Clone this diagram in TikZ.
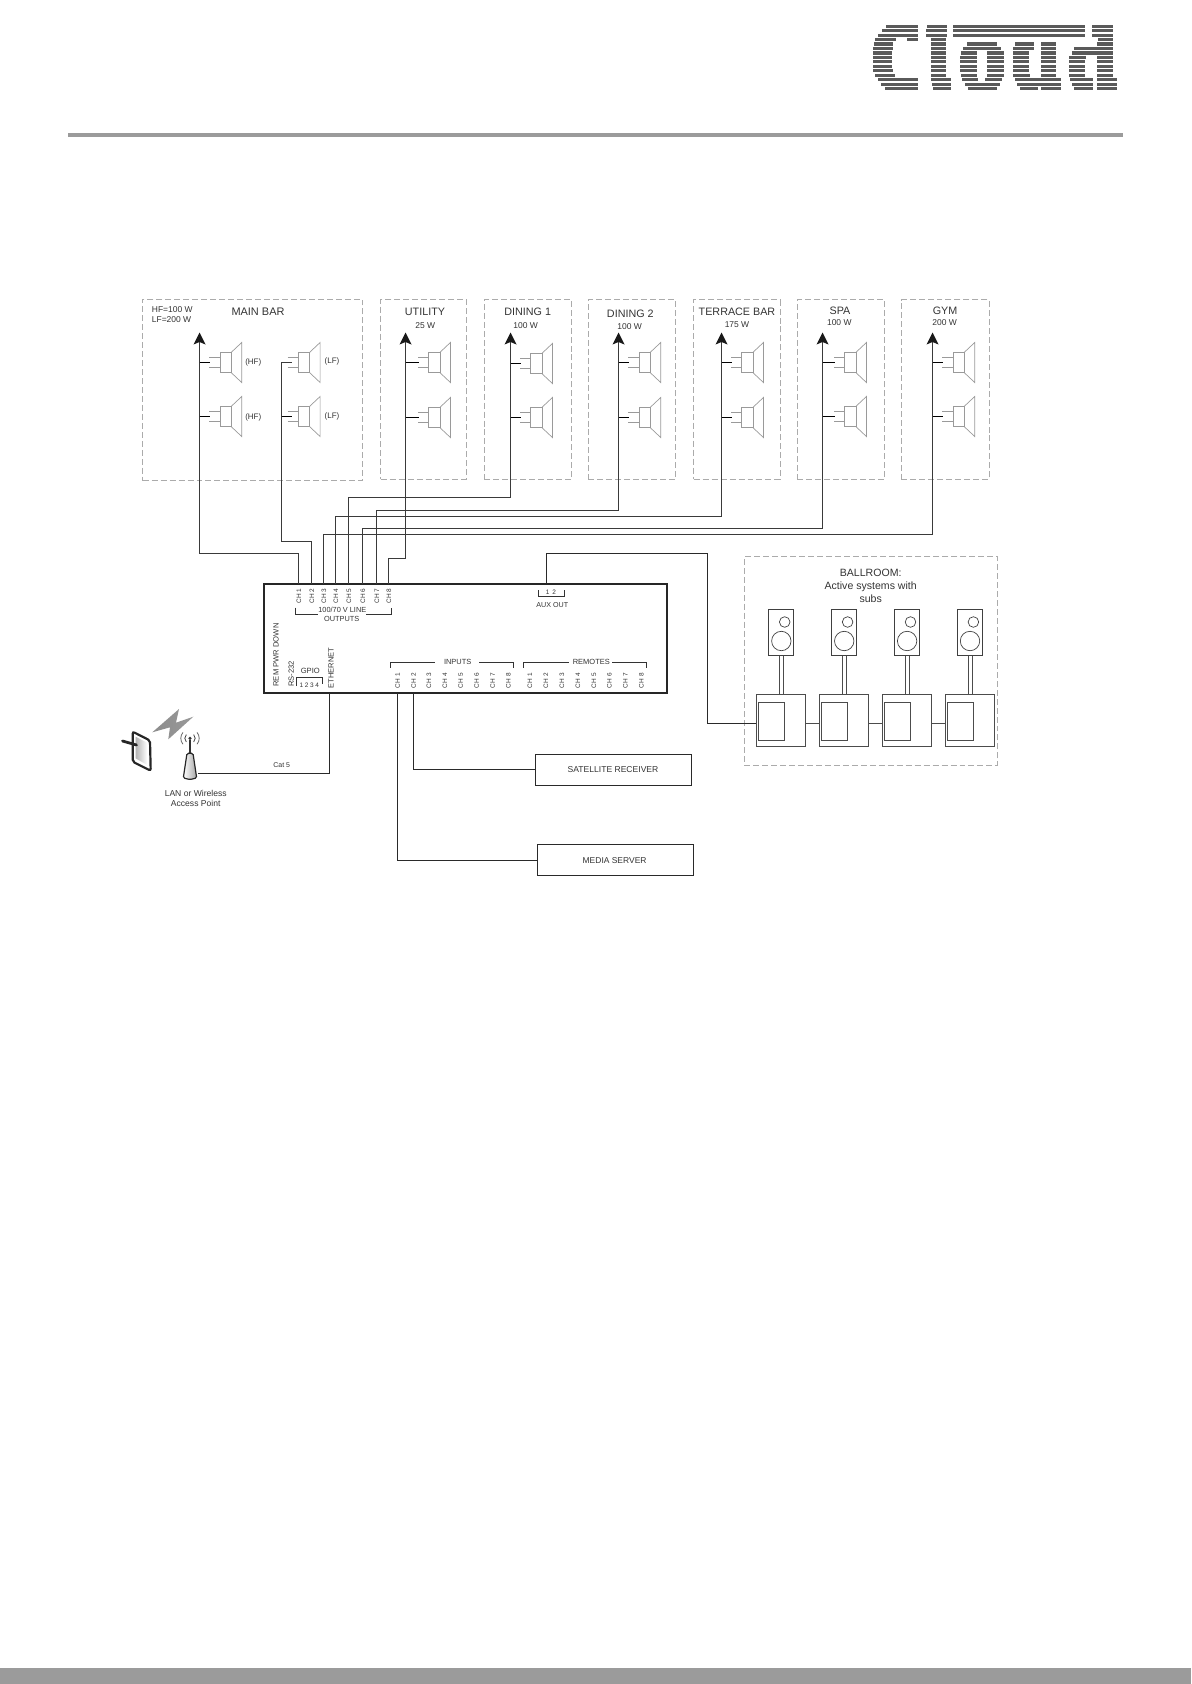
\documentclass[tikz,border=0pt]{standalone}
\usepackage{fontspec}
\setmainfont{Liberation Sans}
\definecolor{txtc}{HTML}{333333}
\definecolor{dashc}{HTML}{ABABAB}
\definecolor{spkc}{HTML}{9A9A9A}
\definecolor{wirec}{HTML}{3A3A3A}
\definecolor{thinc}{HTML}{2A2A2A}
\definecolor{barc}{HTML}{9B9B9B}
\definecolor{logoc}{HTML}{5A5A5A}
\tikzset{
  lbl/.style={inner sep=0pt,text=txtc,font=\fontsize{#1}{#1}\selectfont},
  vlbl/.style={lbl=#1,rotate=90},
  room/.style={draw=dashc,line width=0.7pt,dash pattern=on 6pt off 3pt,inner sep=0pt},
  wire/.style={draw=wirec,line width=1.8pt},
  thinwire/.style={draw=thinc,line width=1pt},
  stub/.style={draw=black,line width=1.2pt},
  brk/.style={draw=txtc,line width=0.6pt},
  devbox/.style={draw=thinc,line width=0.8pt,inner sep=0pt},
  balline/.style={draw=black!70,line width=0.8pt},
  spk/.pic={
    \draw[spkc,line width=0.7pt] (0,-5) -- (10.7,-5) (0,5) -- (10.7,5);
    \draw[spkc,line width=0.7pt] (10.7,-10.2) rectangle (22,10.2);
    \draw[spkc,line width=0.7pt] (22,-10.2) -- (32.4,-20) -- (32.4,20) -- (22,10.2);
  },
  tip/.pic={
    \fill[black!90] (0,-9.5) -- (6,2.5) -- (0,0) -- (-6,2.5) -- cycle;
  },
}
\begin{document}
\begin{tikzpicture}[x=1bp,y=-1bp]
\useasboundingbox (0,0) rectangle (1191,1684);

% header and footer bars
\fill[barc] (68,133) rectangle (1123,137);
\fill[barc] (0,1668) rectangle (1191,1684);

% logo, stripe by stripe
\foreach \r/\a/\b in {
 0/885.7/918.3,1/881.7/918.3,2/878/917.7,3/875/895.7,3/906.7/917.7,4/874/893.3,5/873.3/892.7,
 6/872.7/892,7/872.7/892,8/872.7/892,9/872.7/892,10/873.3/892.7,11/875/895,12/878.3/917.7,13/881/917.7,14/885/917.7,
 0/926.5/946.7,1/926/946.7,2/926/946.7,3/931/946,4/931/946,5/931/946,6/931/946,7/931/946,8/931/946,9/931/946,10/931/946,11/931/946,12/931/951,13/931.7/951,14/933/951,
 0/953.3/1085,1/953.3/1085,2/953.3/1085,
 4/966.7/996.7,5/963.3/1000.7,6/960.7/976.7,6/986.7/1003.6,7/960/976.7,7/986.7/1004,8/960/976.7,8/986.7/1004,9/960/976.7,9/986.7/1004,10/960/976.7,10/986.7/1004,11/960.7/977,11/986.7/1003.6,12/961.7/978,12/985/1001.7,13/965/1000,14/968.3/996.7,
 4/1015/1034.3,5/1013.3/1034.3,6/1012.7/1029.3,7/1012.7/1029.3,8/1012.7/1029.3,9/1012.7/1029.3,10/1012.7/1029.3,11/1013.3/1030,12/1015/1061,13/1016.7/1061,14/1020/1038.3,
 4/1040.7/1056,5/1040.7/1056,6/1040.7/1056,7/1040.7/1056,8/1040.7/1056,9/1040.7/1056,10/1040.7/1056,11/1040.7/1056,14/1040.7/1061,
 0/1092.3/1112.7,1/1092.3/1112.7,2/1092.3/1112.7,3/1097.7/1112.7,4/1096.7/1112.7,5/1074/1112.7,6/1071.7/1112.7,
 7/1069.3/1086,7/1097.3/1112.7,8/1069/1085,8/1097.3/1112.7,9/1069/1085,9/1097.3/1112.7,10/1069/1085,10/1097.3/1112.7,11/1069/1085,11/1097.3/1112.7,
 12/1070/1093.3,12/1097.3/1117.3,13/1071.7/1093.3,13/1097.3/1117.3,14/1074/1093.3,14/1097.3/1117.3}{
  \fill[logoc] (\a,{24.6+4.457*\r}) rectangle (\b,{27.8+4.457*\r});
}

% rooms
\node[room,minimum width=219.3bp,minimum height=181.7bp] (rmain) at (252.35,389.85) {};
\node[room,minimum width=85.8bp,minimum height=179.7bp] (rutil) at (423.6,389.15) {};
\node[room,minimum width=87.4bp,minimum height=179.6bp] (rdin1) at (528,389.5) {};
\node[room,minimum width=87.4bp,minimum height=179.6bp] (rdin2) at (632,389.5) {};
\node[room,minimum width=86.3bp,minimum height=179.6bp] (rterr) at (736.85,389.5) {};
\node[room,minimum width=87.4bp,minimum height=179.6bp] (rspa) at (841,389.5) {};
\node[room,minimum width=87.7bp,minimum height=179.6bp] (rgym) at (945.15,389.5) {};
\node[room,minimum width=253.4bp,minimum height=208.3bp] (rball) at (871,660.85) {};

% room labels
\node[lbl=11] (tmain) at (258,312) {MAIN BAR};
\node[lbl=8.5,align=left,anchor=north west,font=\fontsize{8.5}{10.5}\selectfont] (tpow) at (151.7,306.3) {HF=100 W\\LF=200 W};
\node[lbl=10.8] (tutil) at (425,312) {UTILITY};
\node[lbl=8.5] (putil) at (425.3,325.7) {25 W};
\node[lbl=10.8] (tdin1) at (527.7,312) {DINING 1};
\node[lbl=8.5] (pdin1) at (525.7,325.3) {100 W};
\node[lbl=10.8] (tdin2) at (630.3,313.7) {DINING 2};
\node[lbl=8.5] (pdin2) at (629.7,327) {100 W};
\node[lbl=10.8] (tterr) at (737,312) {TERRACE BAR};
\node[lbl=8.5] (pterr) at (737,324.3) {175 W};
\node[lbl=10.8] (tspa) at (840,310.7) {SPA};
\node[lbl=8.5] (pspa) at (839.3,322.7) {100 W};
\node[lbl=10.8] (tgym) at (945,310.7) {GYM};
\node[lbl=8.5] (pgym) at (944.7,322.7) {200 W};
\node[lbl=8] (hf1) at (253.3,362.3) {(HF)};
\node[lbl=8] (hf2) at (253.3,417.7) {(HF)};
\node[lbl=8] (lf1) at (332,361.3) {(LF)};
\node[lbl=8] (lf2) at (332,416.7) {(LF)};

% amplifier
\node[draw=black!85,line width=2.4pt,minimum width=402.7bp,minimum height=108.7bp,inner sep=0pt] (amp) at (465.65,638.35) {};

% output pins and labels
\foreach \i/\x in {1/298.5,2/311.5,3/323.5,4/335.5,5/348.5,6/362.5,7/376.5,8/388.5}{
  \coordinate (o\i) at (\x,584);
  \node[vlbl=6.5] (ol\i) at (\x+0.4,596) {CH \i};
}
% tops of the speaker lines
\coordinate (b1) at (199.5,342);
\coordinate (b2) at (405.5,342);
\coordinate (b3) at (510.5,342);
\coordinate (b4) at (618.5,342);
\coordinate (b5) at (721.5,342);
\coordinate (b6) at (822.5,342);
\coordinate (b7) at (932.5,342);
\foreach \n in {1,...,7}{\pic at (b\n) {tip};}

% corners of the outgoing lines
\coordinate (c1) at (199.5,553.5);
\coordinate (c2) at (281.5,541.5);
\coordinate (c2t) at (281.5,362.5);
\coordinate (c2s) at (291.7,362.5);
\coordinate (c8) at (405.5,558.5);
\coordinate (cd1) at (510.5,497.5);
\coordinate (cd2) at (618.5,510.5);
\coordinate (cte) at (721.5,516.5);
\coordinate (csp) at (822.5,528.5);
\coordinate (cgy) at (932.5,534.5);

\draw[wire] (o1) |- (c1) -- (b1);
\draw[wire] (o2) |- (c2) -- (c2t) -- (c2s);
\draw[wire] (o5) |- (cd1) -- (b3);
\draw[wire] (o7) |- (cd2) -- (b4);
\draw[wire] (o4) |- (cte) -- (b5);
\draw[wire] (o6) |- (csp) -- (b6);
\draw[wire] (o3) |- (cgy) -- (b7);
\draw[wire] (o8) |- (c8) -- (b2);

% speakers
\foreach \bus/\xo/\ya/\yb in {199.5/209.3/362.5/416.5,405.5/418/362.5/417.5,510.5/520/363.5/417.5,618.5/628.3/362.5/417.5,721.5/731/362.5/417.5,822.5/834/362.5/416.5,932.5/942.3/362.5/416.5}{
  \pic at (\xo,\ya) {spk};
  \pic at (\xo,\yb) {spk};
  \draw[stub] (\bus,\ya) -- (\xo+1,\ya);
  \draw[stub] (\bus,\yb) -- (\xo+1,\yb);
}
\pic at (287.7,362.5) {spk};
\pic at (287.7,416.5) {spk};
\draw[stub] (281.5,416.5) -- (291.7,416.5);

% outputs bracket
\draw[brk] (295.3,607.7) -- (295.3,614) -- (317.7,614);
\draw[brk] (366,614) -- (391.7,614) -- (391.7,607.7);
\node[lbl=7.4] (tline) at (342.3,610.3) {100/70 V LINE};
\node[lbl=7.4] (tout) at (341.7,618.7) {OUTPUTS};

% aux out
\coordinate (auxp) at (546.5,584);
\draw[brk] (538.3,590) -- (538.3,596.7) -- (564.3,596.7) -- (564.3,590);
\node[lbl=6.5] (taux12) at (551,592.3) {1\hspace{3pt}2};
\node[lbl=7.2] (taux) at (552.3,604.7) {AUX OUT};

% left side labels
\node[vlbl=7.65] (trem) at (276,655) {REM PWR DOWN};
\node[vlbl=7.6] (trs) at (291.3,673.7) {RS-232};
\node[lbl=7.6] (tgpio) at (310.3,671.3) {GPIO};
\draw[brk] (296.3,686) -- (296.3,677.7) -- (322.3,677.7) -- (322.3,684);
\node[lbl=6.5] (tgp) at (309.3,685) {1\hspace{1.7pt}2\hspace{1.7pt}3\hspace{1.7pt}4};
\node[vlbl=7.55] (teth) at (331,668) {ETHERNET};

% inputs
\draw[brk] (390.7,667.7) -- (390.7,662) -- (435,662);
\draw[brk] (479.3,662) -- (513.3,662) -- (513.3,667.7);
\node[lbl=7.5] (tin) at (457.7,662.3) {INPUTS};
\foreach \i/\x in {1/397.7,2/413.7,3/429,4/445,5/460.7,6/476.7,7/492.7,8/508.3}{
  \node[vlbl=6.5] (il\i) at (\x,680.7) {CH \i};
}
% remotes
\draw[brk] (523.7,667.7) -- (523.7,662) -- (569,662);
\draw[brk] (612,662) -- (646.7,662) -- (646.7,667.7);
\node[lbl=7.5] (trm) at (591.3,662.3) {REMOTES};
\foreach \i/\x in {1/530,2/546,3/562,4/578,5/594,6/609.3,7/625.3,8/641.3}{
  \node[vlbl=6.5] (rl\i) at (\x,680.7) {CH \i};
}

% sources
\node[devbox,minimum width=156bp,minimum height=31bp] (sat) at (613,769.5) {};
\node[lbl=8.6] (tsat) at (613,770) {SATELLITE RECEIVER};
\node[devbox,minimum width=156bp,minimum height=31bp] (med) at (615,860) {};
\node[lbl=8.5] (tmed) at (614.6,860.5) {MEDIA SERVER};
\coordinate (in1) at (397.5,692.7);
\coordinate (in2) at (413.5,692.7);
\coordinate (satin) at (sat.west);
\coordinate (medin) at (med.west);
\draw[thinwire] (in2) |- (satin);
\draw[thinwire] (in1) |- (medin);

% network
\coordinate (ethp) at (329.5,692.7);
\coordinate (apin) at (198,773.5);
\draw[thinwire] (ethp) |- (apin);
\node[lbl=7] (tcat) at (281.7,765.3) {Cat 5};
\node[lbl=8.6,align=center,font=\fontsize{8.6}{10}\selectfont] (tlan) at (195.7,798) {LAN or Wireless\\Access Point};

% access point
\draw[black!80,line width=1.2pt] (190,753) -- (190,740);
\fill[black!80] (190,738.3) circle (1.7);
\foreach \s/\e/\r/\sh in {135/225/5.2/75,-45/45/5.2/75,140/220/9.2/60,-40/40/9.2/60}{
  \draw[black!\sh,line width=0.8pt] ([shift={(\s:\r)}]190,738.3) arc (\s:\e:\r);
}
\draw[black!85,line width=1.2pt,left color=white,right color=black!35,rounded corners=1.5pt] (187,753.3) -- (193,753.3) -- (196.7,778) -- (190,779.5) -- (183.3,778) -- cycle;

% tablet
\draw[black!85,line width=2.2pt,fill=white,rounded corners=2pt] (132.7,731.7) -- (150,740.5) -- (150.7,770.7) -- (132.7,761.7) -- cycle;
\path[left color=black!30,right color=white] (135.5,736.7) -- (147.3,742.7) -- (147.3,765) -- (135.5,758.3) -- cycle;
\draw[black!85,line width=2.8pt,line cap=round] (122.5,741) -- (136.5,745);

% wireless zigzag
\path[left color=black!45,middle color=black!5,right color=black!40] (152.3,732.3) -- (179,709) -- (176,722.7) -- (193.3,716.7) -- (168.3,739.3) -- (170,727.3) -- cycle;

% ballroom
\node[lbl=10.6,align=center,font=\fontsize{10.6}{13.3}\selectfont] (tball) at (870.7,586) {BALLROOM:\\Active systems with\\subs};
\foreach \n [evaluate=\n as \dx using 62.9*\n] in {0,1,2,3}{
  \node[balline,minimum width=49bp,minimum height=51.7bp,inner sep=0pt] (sub\n) at (781.2+\dx,720.15) {};
  \node[balline,minimum width=26.4bp,minimum height=38.3bp,inner sep=0pt] (amp\n) at (771.5+\dx,721.15) {};
  \node[draw=black!75,line width=0.9pt,minimum width=25bp,minimum height=46.4bp,inner sep=0pt] (box\n) at (781.2+\dx,632.5) {};
  \node[circle,draw=black!75,line width=0.7pt,minimum size=10.6bp,inner sep=0pt] (hi\n) at (784.7+\dx,622) {};
  \node[circle,draw=black!75,line width=0.7pt,minimum size=19.4bp,inner sep=0pt] (lo\n) at (781.3+\dx,641) {};
  \draw[balline] (779.7+\dx,655.7) -- (779.7+\dx,694.3);
  \draw[balline] (783.7+\dx,655.7) -- (783.7+\dx,694.3);
}
\coordinate (auxc) at (707.5,553.5);
\coordinate (auxd) at (707.5,723.5);
\coordinate (sb0) at (sub0.west |- auxd);
\draw[thinwire] (auxp) |- (auxc) -- (auxd) -- (sb0);
\foreach \a/\b in {0/1,1/2,2/3}{
  \draw[balline] (sub\a.east |- auxd) -- (sub\b.west |- auxd);
}
\end{tikzpicture}
\end{document}
